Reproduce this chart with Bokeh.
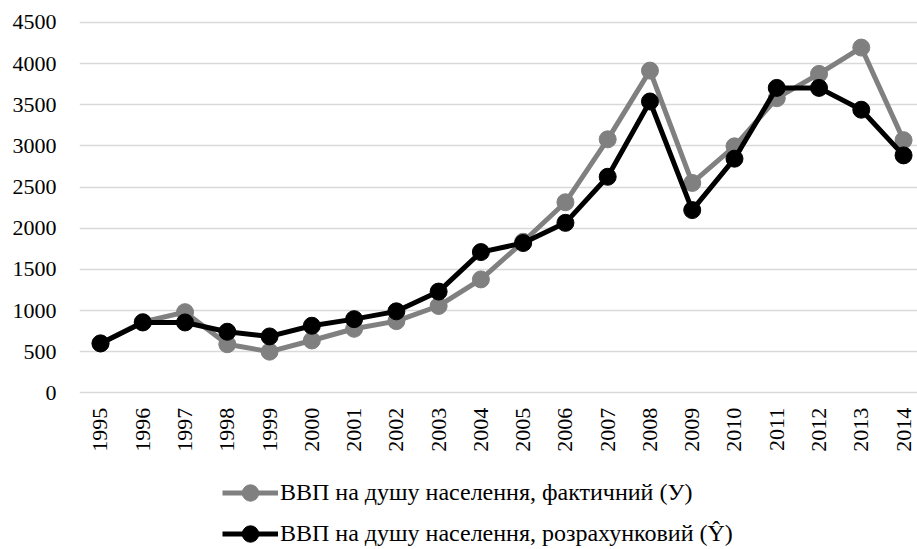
from bokeh.plotting import figure
from bokeh.models import Range1d, Legend, LegendItem, FixedTicker, ColumnDataSource
from bokeh.embed import file_html
from bokeh.resources import INLINE
import math

years = list(range(1995, 2015))
tick_labels = [str(y) for y in years]
actual = [600, 860, 980, 590, 500, 636, 778, 871, 1055, 1378, 1835, 2315, 3080, 3915, 2550, 2995, 3580, 3875, 4195, 3070]
estimated = [600, 855, 855, 742, 685, 815, 895, 990, 1230, 1710, 1820, 2065, 2625, 3540, 2220, 2845, 3705, 3705, 3440, 2885]
label_actual = "ВВП на душу населення, фактичний (У)"
label_est = "ВВП на душу населення, розрахунковий (Ŷ)"

FONT = "Liberation Serif"

p = figure(width=917, height=549, output_backend="svg", toolbar_location=None,
           x_range=Range1d(1994.503, 2014.33), y_range=Range1d(-1904, 4524))
p.min_border_left = 79
p.min_border_right = 0
p.min_border_top = 20
p.min_border_bottom = 0
p.outline_line_color = None
p.background_fill_color = "white"
p.border_fill_color = "white"

p.xgrid.visible = False
p.ygrid.grid_line_color = "#d9d9d9"
p.ygrid.grid_line_width = 1.5
p.yaxis.ticker = FixedTicker(ticks=list(range(0, 4501, 500)))
p.xaxis.ticker = FixedTicker(ticks=years)
p.xaxis.major_label_overrides = {y: s for y, s in zip(years, tick_labels)}
p.xaxis.fixed_location = 0

for ax in (p.xaxis, p.yaxis):
    ax.axis_line_color = None
    ax.major_tick_line_color = None
    ax.minor_tick_line_color = None
    ax.major_label_text_font = FONT
    ax.major_label_text_font_size = "22px"
    ax.major_label_text_color = "#000000"
p.yaxis.major_label_standoff = 17
p.xaxis.major_label_standoff = 9
p.xaxis.major_label_orientation = math.pi / 2

src = ColumnDataSource(dict(x=years, a=actual, e=estimated))
la = p.line("x", "a", source=src, line_color="#808080", line_width=5)
sa = p.scatter("x", "a", source=src, size=17, fill_color="#808080", line_color="#808080")
le = p.line("x", "e", source=src, line_color="#000000", line_width=5)
se = p.scatter("x", "e", source=src, size=17, fill_color="#000000", line_color="#000000")

legend = Legend(items=[LegendItem(label=label_actual, renderers=[la, sa]),
                       LegendItem(label=label_est, renderers=[le, se])],
                location=(143, -5), orientation="vertical")
legend.label_text_font = FONT
legend.label_text_font_size = "24px"
legend.label_text_color = "#000000"
legend.glyph_width = 56
legend.glyph_height = 41
legend.label_height = 20
legend.label_standoff = 2
legend.spacing = 0
legend.padding = 0
legend.margin = 0
legend.border_line_color = None
legend.background_fill_alpha = 0
p.add_layout(legend, "center")

open("out.html", "w").write(file_html(p, INLINE))
